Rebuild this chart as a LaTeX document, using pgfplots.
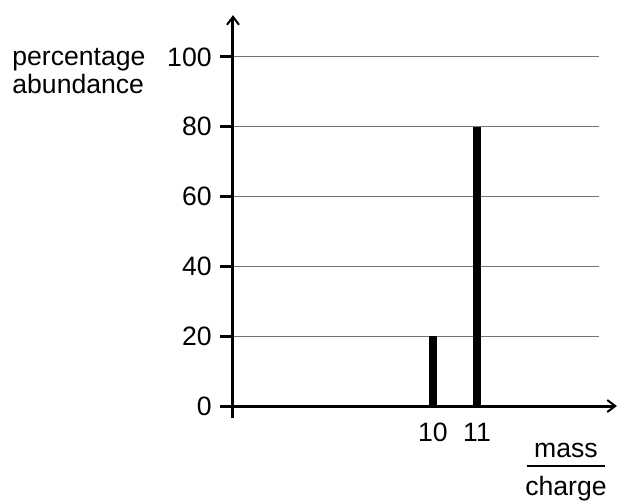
\documentclass[border=0pt]{standalone}
\usepackage{fontspec}
\setmainfont{Liberation Sans}
\usepackage{pgfplots}
\pgfplotsset{compat=1.18}
\usetikzlibrary{arrows.meta}
\begin{document}
\begin{tikzpicture}
\begin{axis}[
  scale only axis, width=192pt, height=195.5pt,
  xmin=5.4545, xmax=14.18, ymin=0, ymax=112,
  axis x line=bottom, axis y line=left,
  axis line style={draw=none,-},
  xtick={10,11}, ytick={0,20,40,60,80,100},
  major x tick style={draw=none},
  major y tick style={black, line width=1.5pt},
  tick align=outside, major tick length=6.5pt,
  tick label style={font=\fontsize{13.3}{16}\selectfont},
  /pgf/number format/assume math mode=true,
  yticklabel style={anchor=east, inner sep=0pt, xshift=-4pt},
  xticklabel style={anchor=base, inner sep=0pt, yshift=-11pt},
  clip=false,
]
% grid lines
\draw[black!55, line width=0.5pt] (axis cs:5.4545,20) -- (axis cs:13.77,20);
\draw[black!55, line width=0.5pt] (axis cs:5.4545,40) -- (axis cs:13.77,40);
\draw[black!55, line width=0.5pt] (axis cs:5.4545,60) -- (axis cs:13.77,60);
\draw[black!55, line width=0.5pt] (axis cs:5.4545,80) -- (axis cs:13.77,80);
\draw[black!55, line width=0.5pt] (axis cs:5.4545,100) -- (axis cs:13.77,100);

\addplot[ycomb, black, line width=3.6pt, mark=none] coordinates {(10,20) (11,80)};

% axes
\draw[line width=1.5pt, -{Straight Barb[length=4pt,width=6pt,line width=1pt]}] (axis cs:5.159,0) -- (axis cs:14.18,0);
\draw[line width=1.5pt, -{Straight Barb[length=4pt,width=6pt,line width=1pt]}] (axis cs:5.4545,-3.44) -- (axis cs:5.4545,112);

% labels
\node[anchor=base west, inner sep=0pt, font=\fontsize{13.3}{16}\selectfont] at (axis cs:0.432,97.7) {percentage};
\node[anchor=base west, inner sep=0pt, font=\fontsize{13.3}{16}\selectfont] at (axis cs:0.432,89.68) {abundance};
\node[anchor=base, inner sep=0pt, font=\fontsize{13.3}{16}\selectfont] at (axis cs:13.023,-14.61) {mass};
\node[anchor=base, inner sep=0pt, font=\fontsize{13.3}{16}\selectfont] at (axis cs:13.023,-25.50) {charge};
\draw[line width=0.75pt] (axis cs:12.136,-17.19) -- (axis cs:13.909,-17.19);

\coordinate (tl) at (axis cs:0.159,116.33);
\coordinate (br) at (axis cs:14.227,-26.93);
\end{axis}
\pgfresetboundingbox
\path[use as bounding box] (tl) rectangle (br);
\end{tikzpicture}
\end{document}
